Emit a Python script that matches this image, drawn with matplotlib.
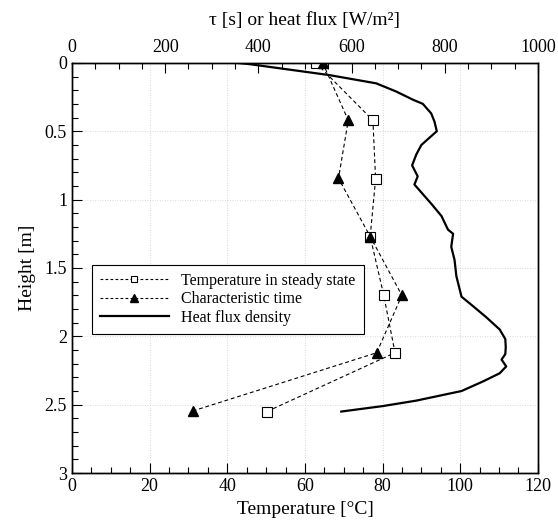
import matplotlib
matplotlib.use("Agg")
import matplotlib.pyplot as plt
from matplotlib.ticker import MultipleLocator
from matplotlib.lines import Line2D

plt.rcParams['font.family'] = ['Liberation Serif', 'DejaVu Serif']
plt.rcParams['mathtext.fontset'] = 'stix'

# Temperature in steady state (bottom axis, °C)
temp_height = [0.0, 0.42, 0.85, 1.27, 1.70, 2.12, 2.55]
temp_values = [62.8, 77.5, 78.2, 76.8, 80.3, 83.2, 50.2]

# Characteristic time (top axis, s)
tau_height = [0.0, 0.42, 0.845, 1.27, 1.70, 2.12, 2.545]
tau_values = [538, 593, 572, 640, 708, 654, 260]

# Heat flux density (top axis, W/m²)
flux_height = [0.0, 0.01, 0.09, 0.15, 0.21, 0.27, 0.30, 0.37, 0.43, 0.50, 0.60,
               0.67, 0.75, 0.83, 0.89, 1.03, 1.12, 1.22, 1.25, 1.345, 1.44,
               1.56, 1.71, 1.78, 1.86, 1.95, 2.02, 2.08, 2.13, 2.17, 2.22,
               2.27, 2.33, 2.40, 2.47, 2.51, 2.55]
flux_values = [353, 382, 553, 653, 696, 732, 753, 771, 778, 783, 750,
               739, 730, 742, 735, 771, 793, 807, 818, 814, 821,
               825, 836, 861, 889, 918, 930, 931, 930, 922, 932,
               918, 882, 836, 739, 667, 578]

fig = plt.figure(figsize=(5.58, 5.28), dpi=100)
ax = fig.add_axes([0.129, 0.104, 0.835, 0.777])
ax2 = ax.twiny()

dash = (0, (3.5, 2.5))
ax.plot(temp_values, temp_height, linestyle=dash, color='black', linewidth=0.8,
        marker='s', markersize=7, markerfacecolor='white', markeredgecolor='black',
        markeredgewidth=0.8, zorder=3)
ax2.plot(tau_values, tau_height, linestyle=dash, color='black', linewidth=0.8,
         marker='^', markersize=7.5, markerfacecolor='black', markeredgecolor='black',
         zorder=3)
ax2.plot(flux_values, flux_height, color='black', linewidth=1.6, zorder=2)

ax.set_xlim(0, 120)
ax.set_ylim(3, 0)
ax2.set_xlim(0, 1000)
ax2.set_ylim(3, 0)

ax.xaxis.set_major_locator(MultipleLocator(20))
ax.xaxis.set_minor_locator(MultipleLocator(5))
ax.yaxis.set_major_locator(MultipleLocator(0.5))
ax.yaxis.set_minor_locator(MultipleLocator(0.1))
ax2.xaxis.set_major_locator(MultipleLocator(200))
ax2.xaxis.set_minor_locator(MultipleLocator(50))

ax.set_yticks([0, 0.5, 1, 1.5, 2, 2.5, 3])
ax.set_yticklabels(['0', '0.5', '1', '1.5', '2', '2.5', '3'])

ax.tick_params(which='both', direction='in', top=False, right=False, labelsize=13)
ax.tick_params(which='major', length=7, width=0.8)
ax.tick_params(which='minor', length=4, width=0.8)
ax2.tick_params(which='both', direction='in', labelsize=13)
ax2.tick_params(which='major', length=7, width=0.8, pad=5)
ax2.tick_params(which='minor', length=4, width=0.8)

ax.grid(True, which='major', linestyle=(0, (1, 2)), color='#cccccc', linewidth=0.6)
ax.set_axisbelow(True)

for a in (ax, ax2):
    for s in a.spines.values():
        s.set_linewidth(1.0)

ax.set_xlabel('Temperature [°C]', fontsize=14, labelpad=4)
ax.set_ylabel('Height [m]', fontsize=14, labelpad=6)
ax2.set_xlabel('τ [s] or heat flux [W/m²]', fontsize=14, labelpad=10)

handles = [
    Line2D([], [], linestyle=(0, (2.5, 2)), color='black', linewidth=0.8, marker='s',
           markersize=5, markerfacecolor='white', markeredgecolor='black', markeredgewidth=0.8),
    Line2D([], [], linestyle=(0, (2.5, 2)), color='black', linewidth=0.8, marker='^',
           markersize=6, markerfacecolor='black'),
    Line2D([], [], color='black', linewidth=1.6),
]
labels = ['Temperature in steady state', 'Characteristic time', 'Heat flux density']
leg = ax2.legend(handles, labels, loc='upper left', bbox_to_anchor=(0.043, 0.507),
                 fontsize=11.5, frameon=True, fancybox=False, edgecolor='black',
                 framealpha=1, handlelength=4.3, handletextpad=0.8, labelspacing=0.15,
                 borderpad=0.5, borderaxespad=0)
leg.get_frame().set_linewidth(0.8)

fig.savefig('out.png', dpi=100)
